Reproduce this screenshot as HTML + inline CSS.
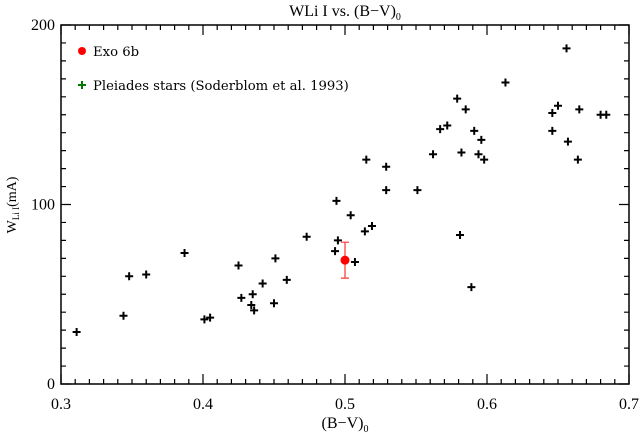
<!DOCTYPE html>
<html><head><meta charset="utf-8"><style>
body{margin:0;background:#fff}
svg{display:block}
text{font-family:"Liberation Serif","DejaVu Serif",serif;fill:#000}
</style></head><body>
<svg id="chart" width="640" height="435" xmlns="http://www.w3.org/2000/svg">
<g id="axes"></g>
<g id="marks"></g>
<text x="345" y="16" text-anchor="middle" font-size="16">WLi I vs. (B−V)<tspan font-size="10" dy="4">0</tspan></text>
<text x="345" y="428" text-anchor="middle" font-size="16">(B−V)<tspan font-size="10" dy="4">0</tspan></text>
<text transform="translate(16,205) rotate(-90)" text-anchor="middle" font-size="14">W<tspan font-size="9" dy="3">Li I</tspan><tspan dy="-3">(mA)</tspan></text>
<g>
<circle cx="82" cy="51" r="4" fill="#f00"/>
<text x="93" y="56" font-size="13.2" style="font-family:'DejaVu Serif',serif">Exo 6b</text>
<path d="M78 85h8M82 81v8" stroke="#070" stroke-width="2"/>
<text x="93" y="90" font-size="13.2" style="font-family:'DejaVu Serif',serif">Pleiades stars (Soderblom et al. 1993)</text>
</g>
</svg>
<script>
const bvValues=[0.311,0.344,0.348,0.360,0.387,0.401,0.405,0.425,0.427,0.435,0.434,0.436,0.442,0.451,0.450,0.459,0.473,0.493,0.495,0.494,0.507,0.504,0.514,0.519,0.515,0.529,0.529,0.551,0.562,0.567,0.572,0.579,0.582,0.581,0.585,0.589,0.591,0.594,0.596,0.598,0.613,0.646,0.646,0.650,0.656,0.657,0.665,0.664,0.680,0.684];
const wliValues=[29,38,60,61,73,36,37,66,48,50,44,41,56,70,45,58,82,74,80,102,68,94,85,88,125,121,108,108,128,142,144,159,129,83,153,54,141,128,136,125,168,141,151,155,187,135,153,125,150,150];
const exoBV=[0.5];
const exoW=[69];
const exoErr=[10];
const xTicks=[0.3,0.4,0.5,0.6,0.7];
const xTickLabels=["0.3","0.4","0.5","0.6","0.7"];
const yTicks=[0,100,200];
const yTickLabels=["0","100","200"];
const X0=61,X1=629,Y0=384,Y1=25;
const xs=v=>X0+(v-0.3)/0.4*(X1-X0);
const ys=v=>Y0-(v/200)*(Y0-Y1);
const NS="http://www.w3.org/2000/svg";
function mk(t,a,p){const e=document.createElementNS(NS,t);for(const k in a)e.setAttribute(k,a[k]);p.appendChild(e);return e;}
const ax=document.getElementById('axes');
const fr=mk('rect',{x:X0,y:Y1,width:X1-X0,height:Y0-Y1,fill:'none',stroke:'#000','stroke-width':1.5},ax);


let d='';
for(let i=0;i<=40;i++){const v=0.3+i*0.01;const x=xs(v);const L=(i%10===0)?10:5;d+=`M${x} ${Y0}v${-L}M${x} ${Y1}v${L}`;}
for(let i=0;i<=20;i++){const y=ys(i*10);const L=(i%10===0)?10:5;d+=`M${X0} ${y}h${L}M${X1} ${y}h${-L}`;}
const tk=mk('path',{d:d,stroke:'#000','stroke-width':1.2,fill:'none'},ax);


xTicks.forEach((v,i)=>{const t=mk('text',{x:xs(v),y:Y0+25,'text-anchor':'middle','font-size':16},ax);t.textContent=xTickLabels[i];

});
yTicks.forEach((v,i)=>{const t=mk('text',{x:X0-6,y:ys(v)+5,'text-anchor':'end','font-size':16},ax);t.textContent=yTickLabels[i];

});
const mg=document.getElementById('marks');
bvValues.forEach((v,i)=>{const x=xs(v),y=ys(wliValues[i]);
const p=mk('path',{d:`M${x-4} ${y}h8M${x} ${y-4}v8`,stroke:'#000','stroke-width':2},mg);

});
exoBV.forEach((v,i)=>{const x=xs(v),y=ys(exoW[i]),yt=ys(exoW[i]+exoErr[i]),yb=ys(exoW[i]-exoErr[i]);
const e=mk('path',{d:`M${x} ${yt}V${yb}M${x-4} ${yt}h8M${x-4} ${yb}h8`,stroke:'#f33','stroke-width':1.2,fill:'none'},mg);


const c=mk('circle',{cx:x,cy:y,r:4.5,fill:'#f00'},mg);

});
</script>
</body></html>
